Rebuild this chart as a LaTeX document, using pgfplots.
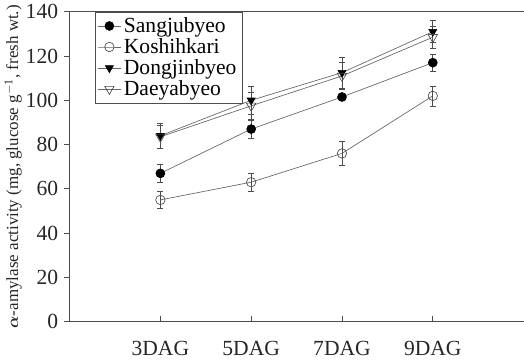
\documentclass[border=0pt]{standalone}
\usepackage{pgfplots}
\pgfplotsset{compat=1.18}
\usepackage{amsmath,bm}
\usepackage{fontspec}
\setmainfont{Liberation Serif}
\begin{document}
\begin{tikzpicture}
\begin{axis}[
  scale only axis,
  width=337pt, height=230pt,
  xmin=1, xmax=11, ymin=0, ymax=140,
  axis x line=box, axis y line=left,
  axis line style={-, black!70, line width=0.6pt},
  xtick={3,5,7,9},
  xticklabels={3DAG,5DAG,7DAG,9DAG},
  ytick={0,20,...,140},
  xtick pos=bottom,
  x tick style={black!70, line width=0.6pt},
  y tick style={black!70, line width=0.6pt},
  xtick align=inside, ytick align=outside,
  major tick length=4pt,
  tick label style={font=\fontsize{16}{18}\selectfont, text=black!85},
  /pgf/number format/assume math mode=true,
  xticklabel style={yshift=-11pt},
  yticklabel style={xshift=-1pt},
  ylabel={$\bm{\alpha}$-amylase activity (mg, glucose g$^{\mathrm{-1}}$, fresh wt.)},
  ylabel style={font=\fontsize{12.6}{15}\selectfont, text=black!85, yshift=-4pt},
  legend style={at={(rel axis cs:0.055,1)}, anchor=north west,
    font=\fontsize{16}{18}\selectfont, draw=black!70, line width=0.5pt,
    row sep=-1pt, inner sep=2pt},
  legend cell align=left,
  every axis plot/.append style={line width=0.5pt},
  error bars/error bar style={black!70, line width=0.5pt},
  error bars/error mark options={rotate=90, mark size=2.3pt, black!70},
]
\addplot[black!60, mark=*, mark size=3.3pt, mark options={fill=black, draw=black},
  error bars/.cd, y dir=both, y explicit]
  coordinates {(3,67) +- (0,4) (5,87) +- (0,4) (7,101.5) +- (0,1) (9,117) +- (0,4)};
\addlegendentry{Sangjubyeo}
\addplot[black!60, mark=o, mark size=3.5pt, mark options={fill=white, draw=black!70},
  error bars/.cd, y dir=both, y explicit]
  coordinates {(3,55) +- (0,4) (5,63) +- (0,4) (7,76) +- (0,5.5) (9,102) +- (0,4.5)};
\addlegendentry{Koshihkari}
\addplot[black!60, mark=triangle*, mark size=3.4pt, mark options={fill=black, draw=black, rotate=180},
  error bars/.cd, y dir=both, y explicit]
  coordinates {(3,84) +- (0,5.5) (5,100) +- (0,6.5) (7,112.5) +- (0,7) (9,131) +- (0,5)};
\addlegendentry{Dongjinbyeo}
\addplot[black!60, mark=triangle, mark size=4pt, mark options={fill=white, draw=black!70, rotate=180},
  error bars/.cd, y dir=both, y explicit]
  coordinates {(3,83.5) +- (0,5) (5,97.5) +- (0,6) (7,111) +- (0,6) (9,128.5) +- (0,5)};
\addlegendentry{Daeyabyeo}
\end{axis}
\end{tikzpicture}
\end{document}
